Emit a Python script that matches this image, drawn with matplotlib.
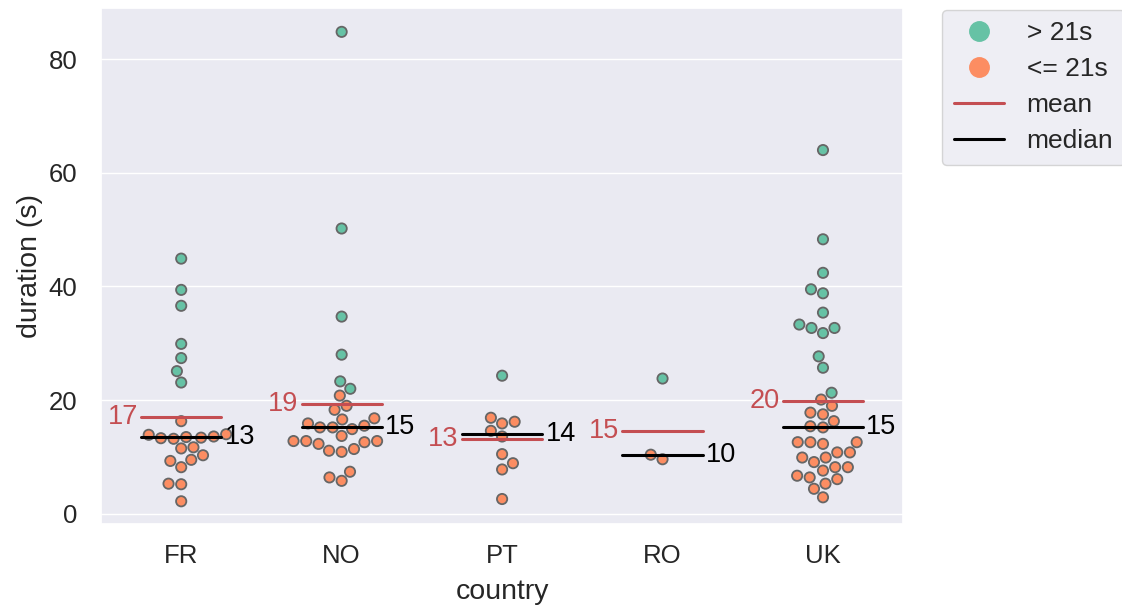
import numpy as np
import pandas as pd
import matplotlib.pyplot as plt
import seaborn as sns
from matplotlib.lines import Line2D

sns.set_theme(style="darkgrid")
plt.rcParams["font.family"] = ["Liberation Sans", "DejaVu Sans"]

# durations (s) per country
countries = ["FR", "NO", "PT", "RO", "UK"]
fr = [44.9, 39.4, 36.6, 29.9, 27.4, 25.1, 23.1,
      16.3, 14.0, 13.6, 13.4, 13.2, 13.3, 13.5, 13.9, 11.5, 11.7,
      10.3, 9.3, 8.2, 9.5, 5.3, 5.2, 2.2]
no = [84.8, 50.2, 34.7, 28.0, 23.3, 22.0,
      20.8, 19.0, 18.3, 16.6, 15.5, 16.8, 15.2, 14.9, 15.2, 15.9,
      13.7, 12.8, 12.3, 12.8, 11.1, 10.9, 11.4, 12.6, 12.8, 6.4, 5.8, 7.4]
pt = [24.3, 16.9, 15.9, 16.2, 14.6, 13.6, 10.5, 8.9, 7.8, 2.6]
ro = [23.8, 10.4, 9.6]
uk = [64.0, 48.3, 42.4, 39.5, 38.8, 35.4, 32.7, 31.8, 32.7, 33.3, 27.7, 25.7,
      21.3, 20.1, 19.0, 17.8, 17.5, 16.3, 15.4, 15.2, 12.6, 12.3, 12.6, 12.6,
      10.8, 9.9, 9.9, 10.8, 9.1, 7.6, 6.7, 8.2, 6.1, 6.4, 8.2, 4.4, 5.3, 2.9]
durations = [fr, no, pt, ro, uk]
threshold = 21
hue_labels = ["> 21s", "<= 21s"]
colors = ["#66c2a5", "#fc8d62"]
mean_color = "#c44e52"

rows = []
for c, vals in zip(countries, durations):
    for v in vals:
        rows.append((c, v, hue_labels[0] if v > threshold else hue_labels[1]))
df = pd.DataFrame(rows, columns=["country", "duration", "group"])

fig = plt.figure(figsize=(11.22, 6.14), dpi=100)
ax = fig.add_axes([0.09, 0.147, 0.715, 0.84])

sns.swarmplot(data=df, x="country", y="duration", hue="group",
              order=countries, hue_order=hue_labels, palette=colors,
              size=7.4, edgecolor="#666666", linewidth=1.3, legend=False, ax=ax)

# mean / median bars with their rounded values
half = 0.25
for i, vals in enumerate(durations):
    m = np.mean(vals)
    med = np.median(vals)
    ax.plot([i - half, i + half], [m, m], color=mean_color, lw=2.2, zorder=5)
    ax.plot([i - half, i + half], [med, med], color="black", lw=2.2, zorder=5)
    ax.text(i - half - 0.02, m, f"{int(round(m))}", color=mean_color,
            fontsize=19.5, ha="right", va="center", zorder=6)
    ax.text(i + half + 0.02, med, f"{int(round(med))}", color="black",
            fontsize=19.5, ha="left", va="center", zorder=6)

ax.set_xlim(-0.5, 4.5)
ax.set_ylim(-1.75, 89)
ax.set_yticks([0, 20, 40, 60, 80])
ax.tick_params(axis="y", labelsize=18.5, pad=11)
ax.tick_params(axis="x", labelsize=18.5, pad=8.5)
ax.set_xlabel("country", fontsize=20.5, labelpad=8)
ax.set_ylabel("duration (s)", fontsize=20.5)

handles = [
    Line2D([], [], marker="o", ls="", color=colors[0], markersize=14),
    Line2D([], [], marker="o", ls="", color=colors[1], markersize=14),
    Line2D([], [], color=mean_color, lw=2.2),
    Line2D([], [], color="black", lw=2.2),
]
fig.legend(handles, hue_labels + ["mean", "median"], loc="upper left",
           bbox_to_anchor=(0.828, 1.006), fontsize=19, handlelength=1.9,
           handletextpad=0.85, labelspacing=0.45, borderpad=0.45)

fig.savefig("out.png", dpi=100)
